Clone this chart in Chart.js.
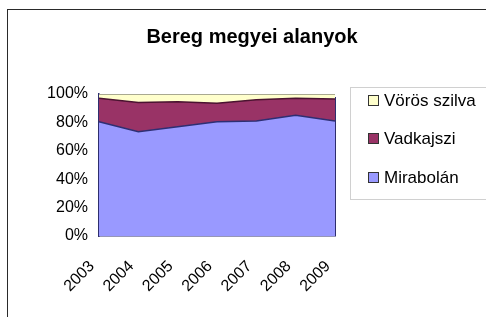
<!DOCTYPE html>
<html>
<head>
<meta charset="utf-8">
<script src="https://cdn.jsdelivr.net/npm/chart.js@4"></script>
<style>
  html, body { margin: 0; padding: 0; background: #fff; overflow: hidden; }
  #frame {
    position: absolute; left: 7px; top: 9px; width: 520px; height: 340px;
    border: 1px solid #2a2a2a;
  }
  #wrap { position: absolute; left: 0; top: 0; width: 486px; height: 317px; }
</style>
</head>
<body>
<div id="frame"></div>
<div id="wrap"><canvas id="areaChart"></canvas></div>
<script>
// data (100% stacked)
const years = ["2003", "2004", "2005", "2006", "2007", "2008", "2009"];
const mirabolan = [80.5, 73.5, 77, 80.5, 81, 85, 81];
const vadkajszi = [16.5, 20.5, 17.5, 13, 15, 12, 15.5];
const vorosSzilva = [3, 6, 5.5, 6.5, 4, 3, 3.5];
const yTicks = [0, 20, 40, 60, 80, 100];

const chartTitle = "Bereg megyei alanyok";
const fontFamily = "'Liberation Sans', Arial, sans-serif";

// title + boxed legend, Excel style
const excelDecor = {
  id: "excelDecor",
  afterDraw(chart) {
    const c = chart.ctx;
    const area = chart.chartArea;
    c.save();

    // right edge of plot
    c.strokeStyle = "#2e2e6e";
    c.lineWidth = 1;
    c.beginPath();
    c.moveTo(Math.round(area.right) + 0.5, area.top + 3);
    c.lineTo(Math.round(area.right) + 0.5, area.bottom);
    c.stroke();

    // title
    c.fillStyle = "#000";
    c.font = "bold 20px " + fontFamily;
    c.textAlign = "center";
    c.textBaseline = "middle";
    c.fillText(chartTitle, 252, 37);

    // legend box
    c.strokeStyle = "#d0d0d0";
    c.strokeRect(350.5, 87.5, 160, 112);

    const rows = [100, 138, 177];
    const sets = chart.data.datasets.slice().reverse();
    c.font = "17px " + fontFamily;
    c.textAlign = "left";
    sets.forEach((ds, i) => {
      const y = rows[i];
      c.fillStyle = ds.backgroundColor;
      c.fillRect(369, y - 4, 9, 9);
      c.strokeStyle = "#333";
      c.strokeRect(368.5, y - 4.5, 10, 10);
      c.fillStyle = "#000";
      c.fillText(ds.label, 384, y + 1);
    });
    c.restore();
  },
};

const ctx = document.getElementById("areaChart").getContext("2d");

new Chart(ctx, {
  type: "line",
  data: {
    labels: years,
    datasets: [
      {
        label: "Mirabolán",
        data: mirabolan,
        backgroundColor: "#9999ff",
        borderColor: "#2e2e73",
        borderWidth: 1.5,
        fill: "origin",
      },
      {
        label: "Vadkajszi",
        data: vadkajszi,
        backgroundColor: "#993366",
        borderColor: "#4a1330",
        borderWidth: 1.5,
        fill: "-1",
      },
      {
        label: "Vörös szilva",
        data: vorosSzilva,
        backgroundColor: "#ffffcc",
        borderColor: "#8c8c7c",
        borderWidth: 1.5,
        fill: "-1",
      },
    ],
  },
  options: {
    responsive: true,
    maintainAspectRatio: false,
    animation: false,
    layout: { padding: { top: 94, right: 151, left: 0, bottom: 0 } },
    elements: {
      point: { radius: 0 },
      line: { tension: 0 },
    },
    plugins: {
      legend: { display: false },
      title: { display: false },
      tooltip: { enabled: false },
    },
    scales: {
      x: {
        offset: false,
        grid: { display: false, drawTicks: false },
        border: { display: true, color: "#2e2e6e", width: 1.5 },
        ticks: {
          color: "#000",
          font: { family: fontFamily, size: 16 },
          minRotation: 45,
          maxRotation: 45,
          padding: 21,
          labelOffset: -7,
          autoSkip: false,
        },
        afterFit: (scale) => {
          scale.height = 81;
        },
      },
      y: {
        stacked: true,
        min: 0,
        max: 100,
        afterBuildTicks: (scale) => {
          scale.ticks = yTicks.map((v) => ({ value: v }));
        },
        grid: { display: false, drawTicks: false },
        border: { display: true, color: "#2e2e6e", width: 1.5 },
        ticks: {
          color: "#000",
          font: { family: fontFamily, size: 16 },
          padding: 11,
          callback: (v) => v + "%",
        },
        afterFit: (scale) => {
          scale.width = 99;
        },
      },
    },
  },
  plugins: [excelDecor],
});
</script>
</body>
</html>
